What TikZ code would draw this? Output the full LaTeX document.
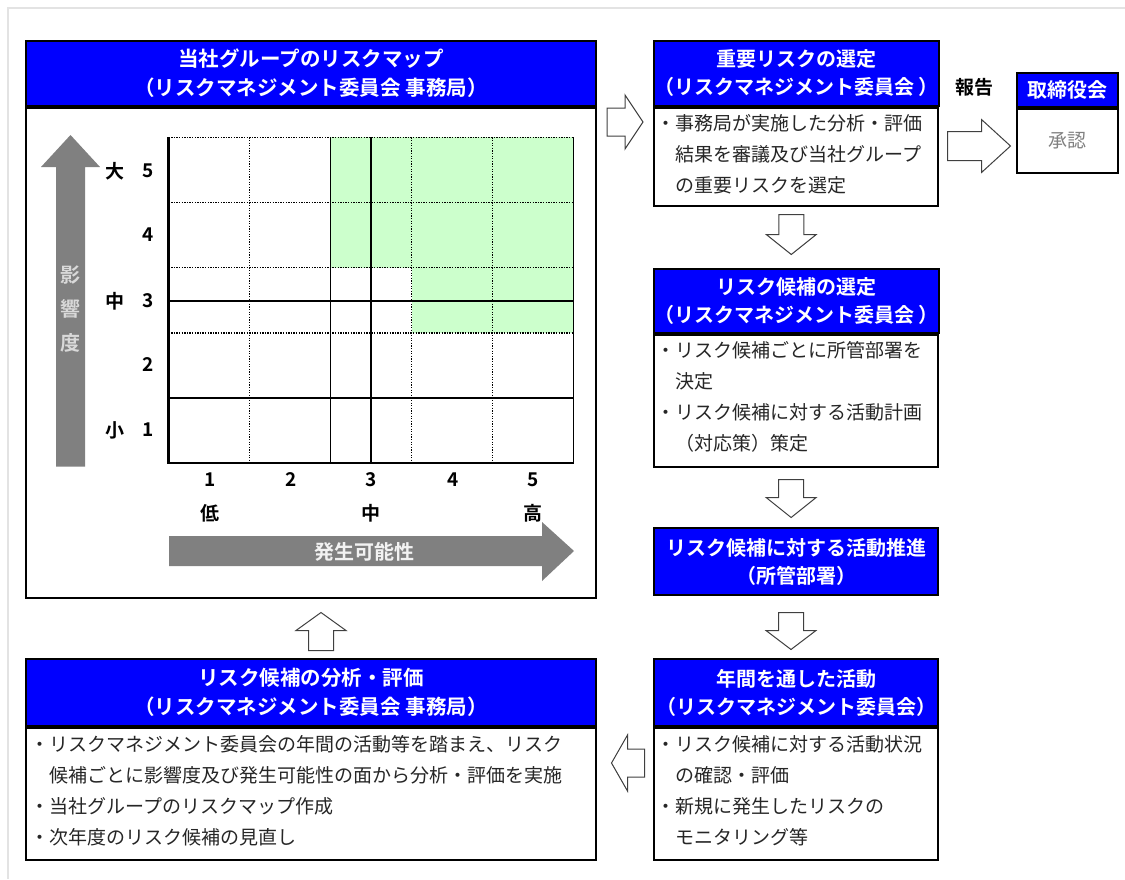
\documentclass[tikz,border=0pt]{standalone}
\usepackage{fontspec}
\setmainfont{Noto Sans CJK JP}[BoldFont={Noto Sans CJK JP Bold}]
\usetikzlibrary{positioning,calc}
\definecolor{hdblue}{HTML}{0000FF}
\definecolor{riskgreen}{HTML}{CCFFCC}
\definecolor{axisgray}{HTML}{808080}
\definecolor{framegray}{HTML}{E3E3E3}
\tikzset{
  hdr/.style={draw=black, line width=2pt, fill=hdblue, text=white, align=center,
    inner sep=0pt, anchor=north west, font=\bfseries\fontsize{20}{28}\selectfont},
  bodybox/.style={draw=black, line width=2pt, fill=white, inner sep=0pt},
  bodytxt/.style={anchor=north west, align=left, inner sep=0pt, text=black!85,
    font=\fontsize{19}{31}\selectfont},
  axislbl/.style={font=\bfseries\fontsize{19}{19}\selectfont},
  gridline/.style={line width=1.3pt},
  griddot/.style={line width=1.3pt, dash pattern=on 1.3pt off 1.3pt},
  pics/holarr/.style n args={4}{code={
    \draw[line width=1pt, draw=black!75, fill=white]
      ({-#1/2},{-#3}) -- ({#1/2-#2},{-#3}) -- ({#1/2-#2},{-#4}) -- ({#1/2},0)
      -- ({#1/2-#2},{#4}) -- ({#1/2-#2},{#3}) -- ({-#1/2},{#3}) -- cycle;}}
}
\begin{document}
\begin{tikzpicture}[x=1pt, y=-1pt]
  \useasboundingbox (0,0) rectangle (1125,879);
  \draw[framegray, line width=1.5pt] (8,879) -- (8,8) -- (1125,8);

  % risk map
  \node[hdr, minimum width=570pt, minimum height=65pt, font=\bfseries\fontsize{20.5}{29}\selectfont] (maphd) at (25,40)
    {当社グループのリスクマップ\\（リスクマネジメント委員会 事務局）};
  \node[bodybox, minimum width=570pt, minimum height=490pt, below=0pt of maphd] (map) {};

  \fill[riskgreen] (330.6,137.3) rectangle (573.6,267.7);
  \fill[riskgreen] (411.6,267.7) rectangle (573.6,332.9);
  \foreach \y in {137.3,202.5,267.7,332.9} \draw[griddot] (168.6,\y) -- (573.6,\y);
  \foreach \x in {249.6,411.6,492.6} \draw[griddot] (\x,137.3) -- (\x,463.3);
  \foreach \y in {301,398.1} \draw[gridline] (168.6,\y) -- (573.6,\y);
  \foreach \x in {330.6,371.1,573.6} \draw[gridline] (\x,137.3) -- (\x,463.3);
  \draw[line width=2pt] (168.6,463.3) -- (573.6,463.3);
  \draw[line width=3pt] (168.6,137.3) -- (168.6,464.3);

  \foreach \n/\y in {5/170.7,4/235,3/301,2/365,1/430}
    \node[axislbl] (row\n) at (148,\y) {\n};
  \node[axislbl] (rowhi) at (115,171) {大};
  \node[axislbl] (rowmid) at (115,301) {中};
  \node[axislbl] (rowlo) at (115,430) {小};
  \foreach \n/\x in {1/210,2/291,3/371,4/453,5/533}
    \node[axislbl] (col\n) at (\x,480) {\n};
  \node[axislbl] (collo) at (210,513) {低};
  \node[axislbl] (colmid) at (371,513) {中};
  \node[axislbl] (colhi) at (533,513) {高};

  \fill[axisgray] (56,466.7) -- (56,167) -- (41,167) -- (70.5,135) -- (100,167) -- (85,167) -- (85,466.7) -- cycle;
  \node[axislbl, text=gray!30, align=center, font=\bfseries\fontsize{20}{34}\selectfont] (impact) at (70.5,309) {影\\響\\度};
  \fill[axisgray] (169,536) -- (542,536) -- (542,522) -- (574,551) -- (542,581) -- (542,566) -- (169,566) -- cycle;
  \node[axislbl, text=gray!10, font=\bfseries\fontsize{20}{20}\selectfont] (likely) at (364,552) {発生可能性};

  % right column
  \node[hdr, minimum width=284pt, minimum height=65pt] (imphd) at (653,40)
    {重要リスクの選定\\（リスクマネジメント委員会 ）};
  \node[bodybox, minimum width=284pt, minimum height=98pt, below=0pt of imphd] (imp) {};
  \node[bodytxt] (imptxt) at ($(imp.north west)+(3,7)$)
    {・事務局が実施した分析・評価\\\phantom{・}結果を審議及び当社グループ\\\phantom{・}の重要リスクを選定};

  \node[hdr, minimum width=101pt, minimum height=34pt] (boardhd) at (1016,72) {取締役会};
  \node[bodybox, minimum width=101pt, minimum height=64pt, below=0pt of boardhd, text=gray,
    font=\fontsize{19}{20}\selectfont] (board) {承認};
  \node[axislbl] (report) at (974,87) {報告};

  \node[hdr, minimum width=284pt, minimum height=64pt] (candhd) at (653,268)
    {リスク候補の選定\\（リスクマネジメント委員会 ）};
  \node[bodybox, minimum width=284pt, minimum height=132pt, below=0pt of candhd] (cand) {};
  \node[bodytxt] (candtxt) at ($(cand.north west)+(3,7)$)
    {・リスク候補ごとに所管部署を\\\phantom{・}決定\\・リスク候補に対する活動計画\\\phantom{・}（対応策）策定};

  \node[hdr, minimum width=284pt, minimum height=67pt] (promhd) at (653,527)
    {リスク候補に対する活動推進\\（所管部署）};

  \node[hdr, minimum width=284pt, minimum height=67pt] (yearhd) at (653,658)
    {年間を通した活動\\（リスクマネジメント委員会）};
  \node[bodybox, minimum width=284pt, minimum height=132pt, below=0pt of yearhd] (year) {};
  \node[bodytxt] (yeartxt) at ($(year.north west)+(3,8)$)
    {・リスク候補に対する活動状況\\\phantom{・}の確認・評価\\・新規に発生したリスクの\\\phantom{・}モニタリング等};

  % bottom left
  \node[hdr, minimum width=570pt, minimum height=67pt, font=\bfseries\fontsize{20.5}{29}\selectfont] (analhd) at (25,658)
    {リスク候補の分析・評価\\（リスクマネジメント委員会 事務局）};
  \node[bodybox, minimum width=570pt, minimum height=132pt, below=0pt of analhd] (anal) {};
  \node[bodytxt] (analtxt) at ($(anal.north west)+(5,8)$)
    {・リスクマネジメント委員会の年間の活動等を踏まえ、リスク\\\phantom{・}候補ごとに影響度及び発生可能性の面から分析・評価を実施\\・当社グループのリスクマップ作成\\・次年度のリスク候補の見直し};

  % flow arrows
  \pic at ($(imphd.south west)+(-28,15)$) {holarr={36}{18}{14}{27}};
  \pic at ($(board.west)+(-37,5)$) {holarr={63}{29}{14.5}{26.5}};
  \pic[rotate=-90] at ($(imp.south)!0.5!(candhd.north)+(-5,-3)$) {holarr={40}{20}{12.5}{25}};
  \pic[rotate=-90] at ($(cand.south)!0.5!(promhd.north)+(-5,1)$) {holarr={38}{20}{12.5}{25}};
  \pic[rotate=-90] at ($(promhd.south)!0.5!(yearhd.north)+(-5,4)$) {holarr={37}{19}{12.5}{25}};
  \pic[rotate=180] at ($(anal.east)!0.5!(year.west)+(3,-31)$) {holarr={33}{16}{14}{28}};
  \pic[rotate=90] at ($(map.south)!0.5!(analhd.north)+(10,3)$) {holarr={38}{18}{12.5}{25}};
\end{tikzpicture}
\end{document}
